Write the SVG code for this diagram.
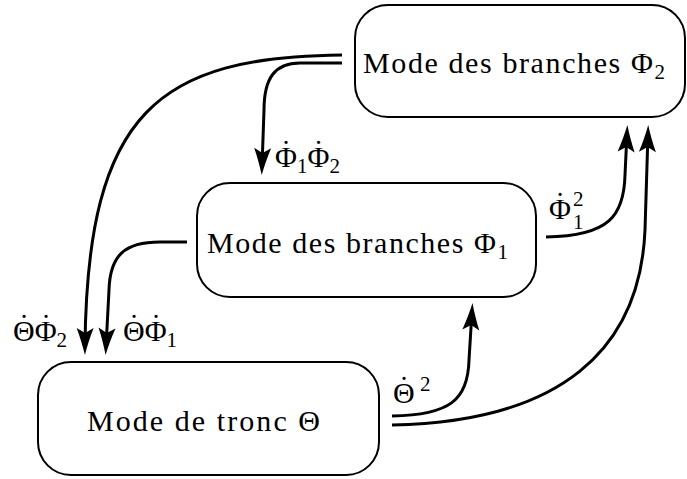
<svg xmlns="http://www.w3.org/2000/svg" width="687" height="479" viewBox="0 0 687 479">
<style>
.box{fill:#fff;stroke:#000;stroke-width:2}
.lbl{font-family:"Liberation Serif","Times New Roman",serif;font-size:30px;fill:#000}
.sm{font-size:21px}
.con{fill:none;stroke:#000;stroke-width:3}
</style>
<defs>
<marker id="ah" viewBox="-20 -9 30 18" markerWidth="30" markerHeight="18" refX="0" refY="0" orient="auto" markerUnits="userSpaceOnUse">
<path d="M8,0 C0,2 -10,5 -19,8.5 L-14,0 L-19,-8.5 C-10,-5 0,-2 8,0 Z" fill="#000"/>
</marker>
</defs>
<g id="connectors">
<path class="con" d="M342,55 C160,57 87,110 85,347" marker-end="url(#ah)"/>
<path class="con" d="M342,63 L300,63 C275,63 264,78 264,110 L262,167" marker-end="url(#ah)"/>
<path class="con" d="M187,242 L160,242 C125,242 110,255 109,290 L106,347" marker-end="url(#ah)"/>
<path class="con" d="M546,237 C610,236 624,215 625,175 L627,133" marker-end="url(#ah)"/>
<path class="con" d="M392,425 C560,422 640,350 645,230 L648,133" marker-end="url(#ah)"/>
<path class="con" d="M392,416 C450,415 468,400 469,360 L472,311" marker-end="url(#ah)"/>
<text class="lbl" x="275" y="167">Φ<tspan class="sm" dy="6">1</tspan><tspan dy="-6">Φ</tspan><tspan class="sm" dy="6">2</tspan><tspan x="281" y="161">˙</tspan><tspan x="313.5" y="161">˙</tspan></text>
<text class="lbl" x="13" y="341">ΘΦ<tspan class="sm" dy="6">2</tspan><tspan x="19" y="335">˙</tspan><tspan x="41" y="335">˙</tspan></text>
<text class="lbl" x="123" y="341">ΘΦ<tspan class="sm" dy="6">1</tspan><tspan x="129" y="335">˙</tspan><tspan x="151" y="335">˙</tspan></text>
<text class="lbl" x="549" y="219">Φ<tspan x="555" y="213">˙</tspan><tspan class="sm" x="573" y="206">2</tspan><tspan class="sm" x="573" y="229">1</tspan></text>
<text class="lbl" x="393" y="403">Θ<tspan x="399" y="397">˙</tspan><tspan class="sm" x="420" y="391">2</tspan></text>
</g>
<g id="node-phi2">
<rect class="box" x="355" y="5" width="330" height="112" rx="33"/>
<text class="lbl" x="363" y="73" textLength="302" lengthAdjust="spacing">Mode des branches Φ<tspan class="sm" dy="6">2</tspan></text>
</g>
<g id="node-phi1">
<rect class="box" x="197" y="183" width="339" height="114" rx="33"/>
<text class="lbl" x="207" y="253" textLength="301" lengthAdjust="spacing">Mode des branches Φ<tspan class="sm" dy="6">1</tspan></text>
</g>
<g id="node-theta">
<rect class="box" x="38" y="362" width="341" height="113" rx="33"/>
<text class="lbl" x="87" y="431" textLength="233" lengthAdjust="spacing">Mode de tronc Θ</text>
</g>
</svg>
